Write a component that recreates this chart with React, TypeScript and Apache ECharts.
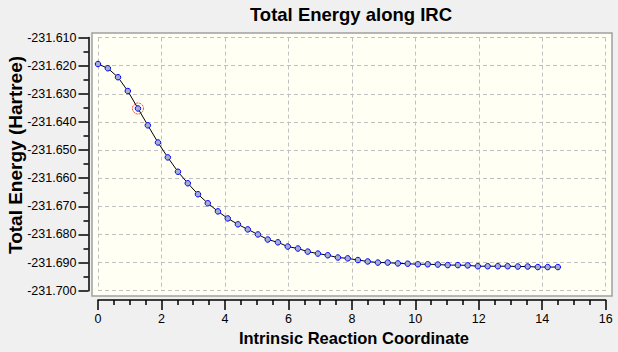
import React, { useEffect, useRef } from "react";
import * as echarts from "echarts";

const chartTitle = "Total Energy along IRC";
const xAxisTitle = "Intrinsic Reaction Coordinate";
const yAxisTitle = "Total Energy (Hartree)";

const reactionCoord = [
  0, 0.31, 0.63, 0.94, 1.26, 1.57, 1.89, 2.2, 2.52, 2.83, 3.15, 3.46, 3.78, 4.09, 4.41, 4.72,
  5.04, 5.35, 5.67, 5.98, 6.3, 6.61, 6.93, 7.24, 7.56, 7.87, 8.19, 8.5, 8.82, 9.13, 9.45, 9.76,
  10.08, 10.39, 10.71, 11.02, 11.34, 11.65, 11.97, 12.28, 12.6, 12.91, 13.23, 13.54, 13.86, 14.17, 14.49,
];

const totalEnergy = [
  -231.6194, -231.6209, -231.6241, -231.629, -231.6352, -231.6412, -231.6473, -231.6526,
  -231.6577, -231.6618, -231.6657, -231.6689, -231.6718, -231.6743, -231.6764, -231.6782,
  -231.68, -231.6818, -231.6828, -231.6843, -231.685, -231.6861, -231.6868, -231.6874,
  -231.6882, -231.6885, -231.6891, -231.6896, -231.69, -231.69, -231.6903, -231.6904,
  -231.6906, -231.6906, -231.6907, -231.6909, -231.6909, -231.691, -231.6913, -231.6913,
  -231.6913, -231.6913, -231.6914, -231.6914, -231.6916, -231.6916, -231.6916,
];

const highlightedIndex = 4;

const xMin = 0;
const xMax = 16;
const xStep = 2;
const yMin = -231.7;
const yMax = -231.61;
const yStep = 0.01;

export default function App() {
  const ref = useRef<HTMLDivElement>(null);

  useEffect(() => {
    if (!ref.current) return;
    const chart = echarts.init(ref.current, null, { renderer: "svg" });
    const font = "'Liberation Sans', Arial, sans-serif";
    const points = reactionCoord.map((x, i) => [x, totalEnergy[i]]);

    chart.setOption({
      animation: false,
      backgroundColor: "#f0f0f0",
      textStyle: { fontFamily: font },
      grid: { left: 98, right: 12.3, top: 37.6, bottom: 61.3, containLabel: false },
      graphic: [
        {
          type: "rect",
          z: -10,
          silent: true,
          shape: { x: 92, y: 33, width: 520, height: 263 },
          style: { fill: "#fffff4", stroke: "#a0a0a0", lineWidth: 1.5 },
        },
        {
          type: "text",
          x: 351,
          y: 14,
          style: {
            text: chartTitle,
            font: `bold 18.5px ${font}`,
            fill: "#000",
            align: "center",
            verticalAlign: "middle",
          },
        },
        {
          type: "text",
          x: 354,
          y: 338,
          style: {
            text: xAxisTitle,
            font: `bold 16.5px ${font}`,
            fill: "#000",
            align: "center",
            verticalAlign: "middle",
          },
        },
        {
          type: "text",
          x: 15,
          y: 155,
          rotation: Math.PI / 2,
          style: {
            text: yAxisTitle,
            font: `bold 19px ${font}`,
            fill: "#000",
            align: "center",
            verticalAlign: "middle",
          },
        },
      ],
      xAxis: {
        type: "value",
        min: xMin,
        max: xMax,
        interval: xStep,
        offset: 9.3,
        z: 5,
        axisLine: { show: true, onZero: false, lineStyle: { color: "#000", width: 1.5 } },
        axisTick: { show: true, length: 10, lineStyle: { color: "#000", width: 1.5 } },
        minorTick: { show: true, splitNumber: 4, length: 5, lineStyle: { color: "#000", width: 1.5 } },
        axisLabel: { color: "#000", fontSize: 12.5, margin: 12, fontFamily: font },
        splitLine: { show: true, lineStyle: { color: "#c0c0c0", type: [4, 3], width: 1 } },
      },
      yAxis: {
        type: "value",
        min: yMin,
        max: yMax,
        interval: yStep,
        offset: 9.5,
        z: 5,
        axisLine: { show: true, onZero: false, lineStyle: { color: "#000", width: 1.5 } },
        axisTick: { show: true, length: 10, lineStyle: { color: "#000", width: 1.5 } },
        minorTick: { show: true, splitNumber: 2, length: 5, lineStyle: { color: "#000", width: 1.5 } },
        axisLabel: {
          color: "#000",
          fontSize: 12.5,
          margin: 12,
          fontFamily: font,
          formatter: (v: number) => v.toFixed(3),
        },
        splitLine: { show: true, lineStyle: { color: "#c0c0c0", type: [4, 3], width: 1 } },
      },
      series: [
        {
          type: "line",
          data: points,
          showAllSymbol: true,
          symbol: "circle",
          symbolSize: 5.5,
          z: 10,
          lineStyle: { color: "#000", width: 1 },
          itemStyle: { color: "#a8b0c8", borderColor: "#0000ff", borderWidth: 1 },
        },
        {
          type: "scatter",
          data: [points[highlightedIndex]],
          symbol: "circle",
          symbolSize: 11,
          z: 11,
          itemStyle: { color: "rgba(0,0,0,0)", borderColor: "#ff0000", borderWidth: 1, borderType: [2, 1] },
        },
      ],
    });

    return () => chart.dispose();
  }, []);

  return <div ref={ref} style={{ position: "fixed", left: 0, top: 0, width: 618, height: 352 }} />;
}
